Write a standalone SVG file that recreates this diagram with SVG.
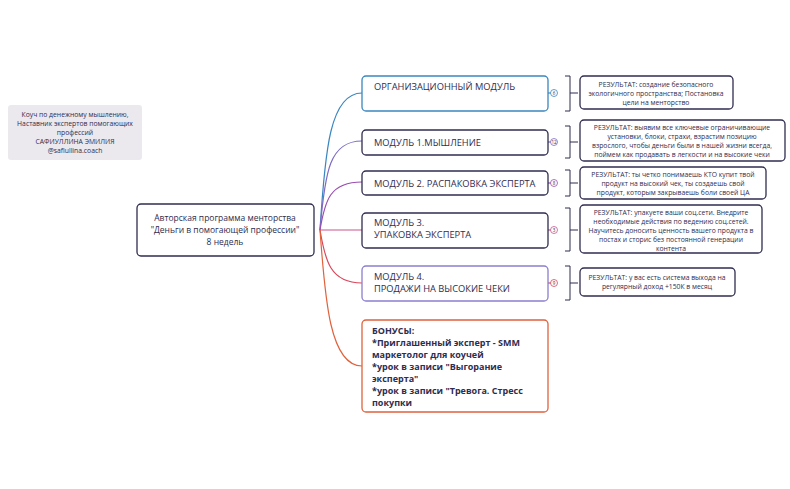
<svg xmlns="http://www.w3.org/2000/svg" width="790" height="489" viewBox="0 0 790 489">
<style>
text{font-family:"Open Sans","Liberation Sans",sans-serif;fill:#2f2d4f}
.r{font-size:6.8px;text-anchor:middle}
.m{font-size:9.3px}
.b{fill:#fff;stroke-width:1.3}
.br{fill:none;stroke:#2f2d4f;stroke-width:1}
.c{fill:#fff;stroke-width:0.8}
.n{font-size:4.5px;text-anchor:middle}
</style>
<rect width="790" height="489" fill="#fff"/>
<g id="connectors" fill="none" stroke-width="1.2">
<path d="M320,230 C325,150 330,93 362,93" stroke="#3a86c0"/>
<path d="M320,230 C325,170 330,141 362,141" stroke="#7d6bc4"/>
<path d="M320,230 C325,200 330,182 362,182" stroke="#9a4fb0"/>
<path d="M320,230 H362" stroke="#c9558a"/>
<path d="M320,230 C325,260 330,283 362,283" stroke="#d9465a"/>
<path d="M320,230 C325,300 330,366 362,366" stroke="#e0623c"/>
<path d="M548,93 H551" stroke="#3a86c0"/>
<path d="M548,142 H551" stroke="#7d6bc4"/>
<path d="M548,183 H551" stroke="#9a4fb0"/>
<path d="M548,230 H551" stroke="#c9558a"/>
<path d="M548,283 H551" stroke="#d9465a"/>
<path class="br" d="M565,76 h5 V111 h-5 M570,93 h8"/>
<path class="br" d="M565,126 h5 V158 h-5 M570,142 h8"/>
<path class="br" d="M565,170 h5 V196 h-5 M570,183 h8"/>
<path class="br" d="M565,208 h5 V251 h-5 M570,230 h8"/>
<path class="br" d="M565,266 h5 V300 h-5 M570,283 h8"/>
</g>
<g id="note"><rect x="8" y="105" width="134" height="55" rx="3" fill="#ebe9ee"/>
<text class="r" x="75" y="117">Коуч по денежному мышлению,</text>
<text class="r" x="75" y="126">Наставник экспертов помогающих</text>
<text class="r" x="75" y="135">профессий</text>
<text class="r" x="75" y="144">САФИУЛЛИНА ЭМИЛИЯ</text>
<text class="r" x="75" y="153">@safiullina.coach</text></g>
<g id="central"><rect class="b" x="137" y="204" width="177" height="52" rx="4" stroke="#2f2d4f"/>
<text x="225" y="221" font-size="8.5" text-anchor="middle">Авторская программа менторства</text>
<text x="225" y="233" font-size="8.5" text-anchor="middle">"Деньги в помогающей профессии"</text>
<text x="225" y="245" font-size="8.5" text-anchor="middle">8 недель</text></g>
<g id="m0"><rect class="b" x="362" y="76" width="186" height="35" rx="4" stroke="#3a86c0"/><text class="m" x="374" y="90">ОРГАНИЗАЦИОННЫЙ МОДУЛЬ</text>
<circle class="c" cx="554" cy="93" r="3.5" stroke="#3a86c0"/><text class="n" x="554" y="94.5">6</text></g>
<g id="m1"><rect class="b" x="362" y="130" width="186" height="25" rx="4" stroke="#2f2d4f"/><text class="m" x="374" y="146">МОДУЛЬ 1.МЫШЛЕНИЕ</text>
<circle class="c" cx="554" cy="142" r="3.5" stroke="#7d6bc4"/><text class="n" x="554" y="143.5">12</text></g>
<g id="m2"><rect class="b" x="362" y="171" width="186" height="24" rx="4" stroke="#2f2d4f"/><text class="m" x="374" y="187">МОДУЛЬ 2. РАСПАКОВКА ЭКСПЕРТА</text>
<circle class="c" cx="554" cy="183" r="3.5" stroke="#9a4fb0"/><text class="n" x="554" y="184.5">8</text></g>
<g id="m3"><rect class="b" x="362" y="213" width="186" height="35" rx="4" stroke="#2f2d4f"/><text class="m" x="374" y="226">МОДУЛЬ 3.</text><text class="m" x="374" y="238">УПАКОВКА ЭКСПЕРТА</text>
<circle class="c" cx="554" cy="230" r="3.5" stroke="#c9558a"/><text class="n" x="554" y="231.5">3</text></g>
<g id="m4"><rect class="b" x="362" y="266" width="186" height="35" rx="4" stroke="#8b7fd0"/><text class="m" x="374" y="280">МОДУЛЬ 4.</text><text class="m" x="374" y="292">ПРОДАЖИ НА ВЫСОКИЕ ЧЕКИ</text>
<circle class="c" cx="554" cy="283" r="3.5" stroke="#d9465a"/><text class="n" x="554" y="284.5">9</text></g>
<g id="bonus"><rect class="b" x="362" y="320" width="186" height="92" rx="4" stroke="#e0623c"/>
<g font-size="9" font-weight="bold"><text x="372" y="334">БОНУСЫ:</text>
<text x="372" y="346">*Приглашенный эксперт - SMM</text>
<text x="372" y="358">маркетолог для коучей</text>
<text x="372" y="370"> *урок в записи "Выгорание</text>
<text x="372" y="382">эксперта"</text>
<text x="372" y="394">*урок в записи "Тревога. Стресс</text>
<text x="372" y="406">покупки</text></g></g>
<g id="r0"><rect class="b" x="580" y="76" width="153" height="33" rx="4" stroke="#2f2d4f"/>
<text class="r" x="656" y="87">РЕЗУЛЬТАТ: создание безопасного</text><text class="r" x="656" y="96">экологичного пространства; Постановка</text><text class="r" x="656" y="105">цели на менторство</text></g>
<g id="r1"><rect class="b" x="580" y="120" width="205" height="41" rx="4" stroke="#2f2d4f"/>
<text class="r" x="682" y="130">РЕЗУЛЬТАТ: выявим все ключевые ограничивающие</text><text class="r" x="682" y="139">установки, блоки, страхи, взрастим позицию</text><text class="r" x="682" y="148">взрослого, чтобы деньги были в нашей жизни всегда,</text><text class="r" x="682" y="157">поймем как продавать в легкости и на высокие чеки</text></g>
<g id="r2"><rect class="b" x="580" y="167" width="186" height="32" rx="4" stroke="#2f2d4f"/>
<text class="r" x="673" y="177">РЕЗУЛЬТАТ: ты четко понимаешь КТО купит твой</text><text class="r" x="673" y="186">продукт на высокий чек, ты создаешь свой</text><text class="r" x="673" y="195">продукт, которым закрываешь боли своей ЦА</text></g>
<g id="r3"><rect class="b" x="580" y="205" width="182" height="48" rx="4" stroke="#2f2d4f"/>
<text class="r" x="671" y="215">РЕЗУЛЬТАТ: упакуете ваши соц.сети. Внедрите</text><text class="r" x="671" y="224">необходимые действия по ведению соц.сетей.</text><text class="r" x="671" y="233">Научитесь доносить ценность вашего продукта в</text><text class="r" x="671" y="242">постах и сторис без постоянной генерации</text><text class="r" x="671" y="251">контента</text></g>
<g id="r4"><rect class="b" x="580" y="268" width="155" height="28" rx="4" stroke="#2f2d4f"/>
<text class="r" x="657" y="280">РЕЗУЛЬТАТ: у вас есть система выхода на</text><text class="r" x="657" y="289">регулярный доход +150К в месяц</text></g>
</svg>
